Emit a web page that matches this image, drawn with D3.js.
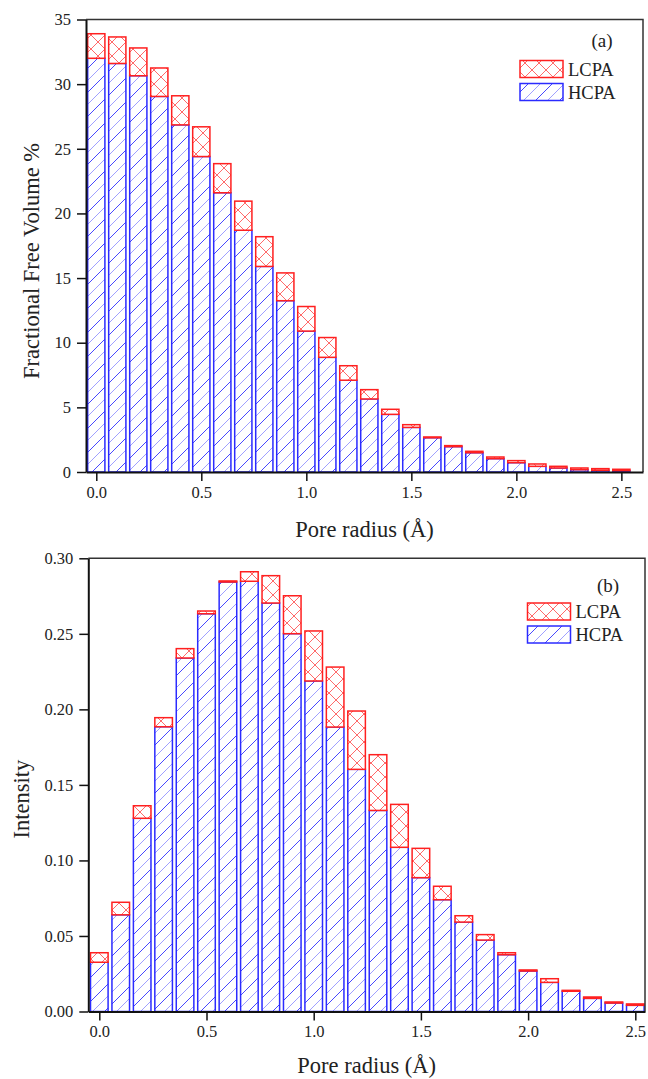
<!DOCTYPE html>
<html>
<head>
<meta charset="utf-8">
<script src="https://cdn.jsdelivr.net/npm/d3@7"></script>
<style>
  body { margin: 0; background: #fff; }
  svg text { font-family: "Liberation Serif", "Times New Roman", serif; fill: #222; }
</style>
</head>
<body>
<svg id="chart" width="648" height="1079"></svg>
<script>
// pore radius bins (Å)
const radius = [0.0, 0.1, 0.2, 0.3, 0.4, 0.5, 0.6, 0.7, 0.8, 0.9, 1.0, 1.1, 1.2,
                1.3, 1.4, 1.5, 1.6, 1.7, 1.8, 1.9, 2.0, 2.1, 2.2, 2.3, 2.4, 2.5]

// (a) fractional free volume %
const ffvHCPA = [32.0, 31.6, 30.65, 29.05, 26.85, 24.4, 21.6, 18.7, 15.9, 13.25, 10.9, 8.87, 7.1,
                 5.65, 4.46, 3.45, 2.65, 1.96, 1.49, 1.03, 0.72, 0.44, 0.31, 0.18, 0.13, 0.1]
const ffvLCPA = [33.9, 33.65, 32.8, 31.25, 29.1, 26.7, 23.85, 20.95, 18.2, 15.4, 12.8, 10.4, 8.22,
                 6.37, 4.85, 3.66, 2.71, 2.04, 1.6, 1.16, 0.88, 0.62, 0.44, 0.31, 0.26, 0.21]

// (b) intensity
const intHCPA = [0.0326, 0.064, 0.1279, 0.1885, 0.234, 0.2633, 0.2843, 0.2848, 0.2704, 0.2501, 0.2188, 0.1883, 0.1603,
                 0.1331, 0.1087, 0.0886, 0.074, 0.0592, 0.0473, 0.0376, 0.0268, 0.0193, 0.0134, 0.0087, 0.0056, 0.0041]
const intLCPA = [0.0389, 0.0723, 0.1362, 0.1945, 0.2402, 0.2651, 0.2850, 0.2911, 0.2885, 0.2752, 0.2519, 0.228, 0.1989,
                 0.170, 0.1371, 0.108, 0.0829, 0.0634, 0.0509, 0.0389, 0.0275, 0.0217, 0.014, 0.0096, 0.0063, 0.005]

const xTicks = [0.0, 0.5, 1.0, 1.5, 2.0, 2.5]
const ffvTicks = [0, 5, 10, 15, 20, 25, 30, 35]
const intTicks = [0, 0.05, 0.10, 0.15, 0.20, 0.25, 0.30]
const seriesNames = ["LCPA", "HCPA"]

var svg = d3.select("#chart")
var defs = svg.append("defs")

// blue single hatch, alternating dark / light strokes
var pb = defs.append("pattern")
    .attr("id", "hatchBlue")
    .attr("patternUnits", "userSpaceOnUse")
    .attr("width", 24).attr("height", 24)
pb.append("rect").attr("width", 24).attr("height", 24).attr("fill", "#fff")
pb.append("path")
    .attr("d", "M0,12 L12,0 M12,24 L24,12")
    .attr("stroke", "#4848ff").attr("stroke-width", 1)
pb.append("path")
    .attr("d", "M0,24 L24,0 M-2,2 L2,-2 M22,26 L26,22")
    .attr("stroke", "#a0a0ff").attr("stroke-width", 1)

// red cross hatch
var pr = defs.append("pattern")
    .attr("id", "hatchRed")
    .attr("patternUnits", "userSpaceOnUse")
    .attr("width", 14).attr("height", 14)
pr.append("rect").attr("width", 14).attr("height", 14).attr("fill", "#fff")
pr.append("path")
    .attr("d", "M0,0 L14,14 M14,0 L0,14")
    .attr("stroke", "#ff6a6a").attr("stroke-width", 1)

function drawPanel(opt) {
  var x = d3.scaleLinear().domain(opt.xDomain).range([opt.left, opt.right])
  var y = d3.scaleLinear().domain(opt.yDomain).range([opt.bottom, opt.top])
  var bw = x(0.082) - x(0)
  var g = svg.append("g")

  var rows = radius.map(function(r, i) { return { r: r, h: opt.hcpa[i], l: opt.lcpa[i] } })

  g.append("g").selectAll("rect")
    .data(rows)
    .enter().append("rect")
    .attr("x", function(d) { return x(d.r) - bw / 2 })
    .attr("y", function(d) { return y(d.h) })
    .attr("width", bw)
    .attr("height", function(d) { return y(0) - y(d.h) })
    .attr("fill", "url(#hatchBlue)")
    .attr("stroke", "#2b2bff")
    .attr("stroke-width", 1.5)

  g.append("g").selectAll("rect")
    .data(rows)
    .enter().append("rect")
    .attr("x", function(d) { return x(d.r) - bw / 2 })
    .attr("y", function(d) { return y(d.l) })
    .attr("width", bw)
    .attr("height", function(d) { return Math.max(0, y(d.h) - y(d.l)) })
    .attr("fill", "url(#hatchRed)")
    .attr("stroke", "#ff2020")
    .attr("stroke-width", 1.5)

  // frame
  g.append("path")
    .attr("d", "M" + opt.left + "," + opt.top + "H" + opt.right + "V" + opt.bottom)
    .attr("fill", "none").attr("stroke", "#333").attr("stroke-width", 1.5)

  var xAxis = g.append("g")
    .attr("transform", "translate(0," + opt.bottom + ")")
    .call(d3.axisBottom(x).tickValues(xTicks).tickFormat(d3.format(".1f"))
      .tickSize(9).tickSizeOuter(0).tickPadding(5))
  var yAxis = g.append("g")
    .attr("transform", "translate(" + opt.left + ",0)")
    .call(d3.axisLeft(y).tickValues(opt.yTicks).tickFormat(opt.yFormat)
      .tickSize(9).tickSizeOuter(0).tickPadding(6))

  ;[xAxis, yAxis].forEach(function(a) {
    a.select(".domain").attr("stroke", "#111").attr("stroke-width", 2)
    a.selectAll(".tick line").attr("stroke", "#111").attr("stroke-width", 1.5)
    a.selectAll("text")
      .style("font-family", "Liberation Serif, serif")
      .style("font-size", "16.5px")
      .attr("fill", "#222")
  })

  g.append("text")
    .attr("x", (opt.left + opt.right) / 2)
    .attr("y", opt.xTitleY)
    .attr("text-anchor", "middle")
    .style("font-size", "22.5px")
    .text("Pore radius (Å)")

  g.append("text")
    .attr("transform", "translate(" + opt.yTitleX + "," + opt.yTitleY + ") rotate(-90)")
    .attr("text-anchor", "middle")
    .style("font-size", "22.5px")
    .text(opt.yTitle)

  g.append("text")
    .attr("x", opt.tag[0]).attr("y", opt.tag[1])
    .attr("text-anchor", "middle")
    .style("font-size", "19px")
    .text(opt.tagText)

  // legend
  var leg = g.append("g")
  seriesNames.forEach(function(name, i) {
    var yy = opt.legend[1] + i * 23
    leg.append("rect")
      .attr("x", opt.legend[0]).attr("y", yy)
      .attr("width", 43).attr("height", 17)
      .attr("fill", name === "LCPA" ? "url(#hatchRed)" : "url(#hatchBlue)")
      .attr("stroke", name === "LCPA" ? "#ff2020" : "#2b2bff")
      .attr("stroke-width", 1.5)
    leg.append("text")
      .attr("x", opt.legend[0] + 48).attr("y", yy + 15)
      .style("font-size", "18.5px")
      .text(name)
  })
}

drawPanel({
  left: 86, right: 643, top: 19.5, bottom: 472,
  xDomain: [-0.049, 2.603], yDomain: [0, 35],
  hcpa: ffvHCPA, lcpa: ffvLCPA,
  yTicks: ffvTicks, yFormat: d3.format("d"),
  xTitleY: 537, yTitleX: 39, yTitleY: 261,
  yTitle: "Fractional Free Volume %",
  tag: [602, 47], tagText: "(a)",
  legend: [520, 60.5]
})

drawPanel({
  left: 88.3, right: 645, top: 558.3, bottom: 1011.5,
  xDomain: [-0.0513, 2.5452], yDomain: [0, 0.30],
  hcpa: intHCPA, lcpa: intLCPA,
  yTicks: intTicks, yFormat: d3.format(".2f"),
  xTitleY: 1073, yTitleX: 29, yTitleY: 799,
  yTitle: "Intensity",
  tag: [608, 592], tagText: "(b)",
  legend: [527.5, 603]
})
</script>
</body>
</html>
